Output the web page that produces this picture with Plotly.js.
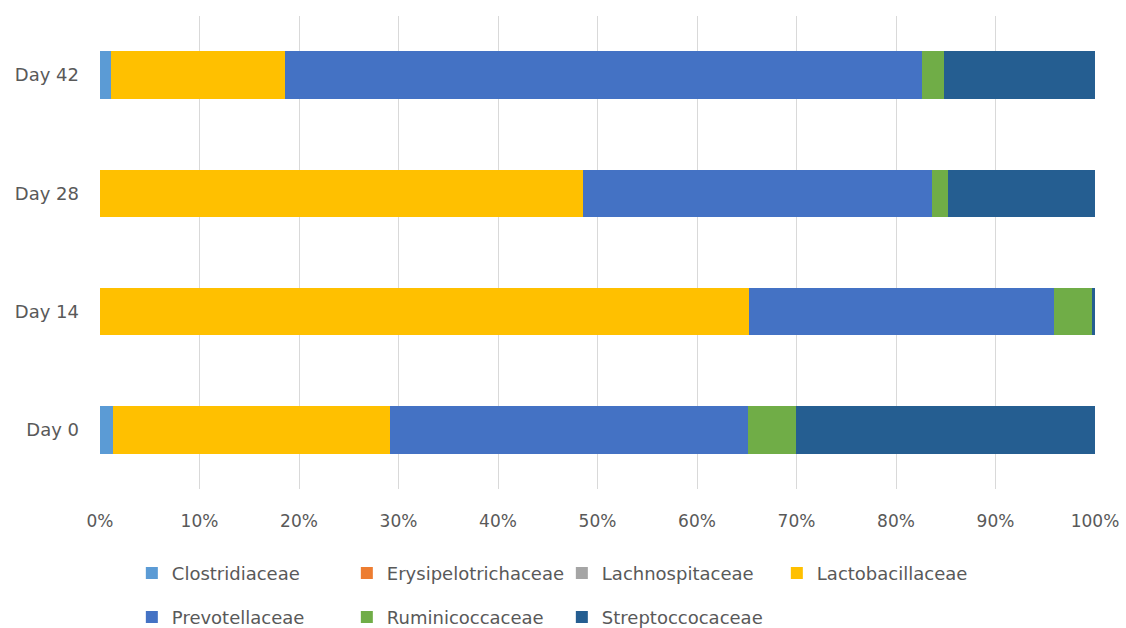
<!DOCTYPE html>
<html>
<head>
<meta charset="utf-8">
<script src="https://cdn.plot.ly/plotly-3.0.1.min.js"></script>
<style>
  html, body { margin: 0; padding: 0; background: #fff; }
  #chart { width: 1126px; height: 628px; }
</style>
</head>
<body>
<div id="chart"></div>
<script>
// Sampling days (bottom to top)
const days = ['Day 0', 'Day 14', 'Day 28', 'Day 42'];

// Relative abundance (%) per family, in the same order as days
const clostridiaceae      = [1.3, 0.0, 0.0, 1.1];
const erysipelotrichaceae = [0.0, 0.0, 0.0, 0.0];
const lachnospitaceae     = [0.0, 0.0, 0.0, 0.0];
const lactobacillaceae    = [27.8, 65.2, 48.5, 17.5];
const prevotellaceae      = [36.0, 30.7, 35.1, 64.0];
const ruminicoccaceae     = [4.8, 3.8, 1.6, 2.2];
const streptoccocaceae    = [30.1, 0.3, 14.8, 15.2];

const xTicks = [0, 10, 20, 30, 40, 50, 60, 70, 80, 90, 100];
const xTickText = xTicks.map(v => v + '%');

const FONT = 'DejaVu Sans, Verdana, sans-serif';
const TEXT = '#595959';

function series(name, values, color, legend) {
  return {
    type: 'bar',
    orientation: 'h',
    name: name,
    y: days,
    x: values,
    marker: { color: color, line: { width: 0 } },
    legend: legend,
    hoverinfo: 'name+x'
  };
}

const traces = [
  series('Clostridiaceae', clostridiaceae, '#5B9BD5', 'legend'),
  series('Erysipelotrichaceae', erysipelotrichaceae, '#ED7D31', 'legend'),
  series('Lachnospitaceae', lachnospitaceae, '#A5A5A5', 'legend'),
  series('Lactobacillaceae', lactobacillaceae, '#FFC000', 'legend'),
  series('Prevotellaceae', prevotellaceae, '#4472C4', 'legend2'),
  series('Ruminicoccaceae', ruminicoccaceae, '#70AD47', 'legend2'),
  series('Streptoccocaceae', streptoccocaceae, '#255E91', 'legend2')
];

// Two legend rows, each a horizontal legend of its own
const legendCommon = {
  orientation: 'h',
  xanchor: 'left',
  yanchor: 'middle',
  entrywidth: 170,
  entrywidthmode: 'pixels',
  traceorder: 'normal',
  font: { family: FONT, size: 18, color: TEXT },
  bgcolor: 'rgba(0,0,0,0)'
};

const layout = {
  width: 1126,
  height: 628,
  margin: { l: 100, r: 31, t: 16, b: 139, autoexpand: false },
  paper_bgcolor: '#ffffff',
  plot_bgcolor: '#ffffff',
  barmode: 'stack',
  bargap: 0.6,
  font: { family: FONT, size: 16, color: TEXT },
  xaxis: {
    range: [0, 100],
    tickvals: xTicks,
    ticktext: xTickText,
    showgrid: true,
    gridcolor: '#D9D9D9',
    gridwidth: 1,
    zeroline: false,
    showline: false,
    ticks: '',
    ticklabelstandoff: 20,
    tickfont: { family: FONT, size: 17, color: TEXT },
    automargin: false,
    fixedrange: true
  },
  yaxis: {
    type: 'category',
    categoryorder: 'array',
    categoryarray: days,
    showgrid: false,
    zeroline: false,
    showline: false,
    ticks: '',
    ticklabelstandoff: 20,
    tickfont: { family: FONT, size: 18, color: TEXT },
    automargin: false,
    fixedrange: true
  },
  legend: Object.assign({}, legendCommon, { x: 0.032, y: -0.178 }),
  legend2: Object.assign({}, legendCommon, { x: 0.032, y: -0.271 }),
  showlegend: true
};

Plotly.newPlot('chart', traces, layout, { displayModeBar: false, staticPlot: true });
</script>
</body>
</html>
